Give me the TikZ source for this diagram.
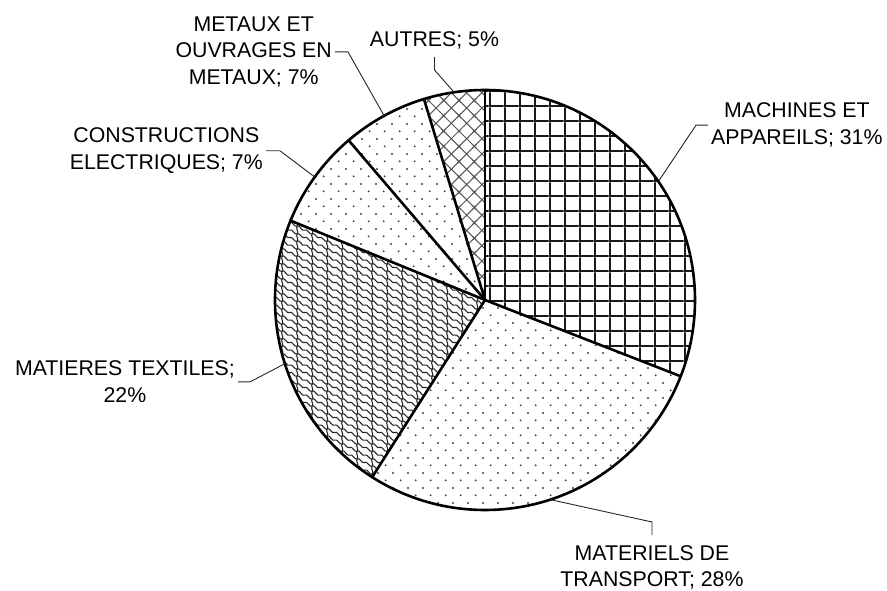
\documentclass[tikz,border=0pt]{standalone}
\usepackage{fontspec}
\setmainfont{Liberation Sans}
\usetikzlibrary{patterns,calc}

% large grid
\pgfdeclarepatternformonly{xlgrid}{\pgfpointorigin}{\pgfpoint{15.3pt}{15.3pt}}{\pgfpoint{15.3pt}{15.3pt}}{%
  \pgfpathrectangle{\pgfpointorigin}{\pgfpoint{15.3pt}{1.9pt}}%
  \pgfpathrectangle{\pgfpointorigin}{\pgfpoint{1.9pt}{15.3pt}}%
  \pgfusepath{fill}}
% sparse dots
\pgfdeclarepatternformonly{xdots}{\pgfpointorigin}{\pgfpoint{15.3pt}{15.3pt}}{\pgfpoint{15.3pt}{15.3pt}}{%
  \pgfpathcircle{\pgfpoint{3.825pt}{3.825pt}}{1.1pt}%
  \pgfpathcircle{\pgfpoint{11.475pt}{11.475pt}}{1.1pt}%
  \pgfusepath{fill}}
% diagonal cross
\pgfdeclarepatternformonly{xcross}{\pgfpoint{-2pt}{-2pt}}{\pgfpoint{17.3pt}{17.3pt}}{\pgfpoint{15.3pt}{15.3pt}}{%
  \pgfsetlinewidth{1.0pt}%
  \pgfpathmoveto{\pgfpoint{-2pt}{-2pt}}\pgfpathlineto{\pgfpoint{17.3pt}{17.3pt}}%
  \pgfpathmoveto{\pgfpoint{-2pt}{17.3pt}}\pgfpathlineto{\pgfpoint{17.3pt}{-2pt}}%
  \pgfusepath{stroke}}
% wave / shingle
\newcommand\wvline[1]{%
  \pgfpathmoveto{\pgfpoint{-1pt}{13.39pt+#1}}%
  \pgfpathlineto{\pgfpoint{2.87pt}{13.39pt+#1}}%
  \pgfpathcurveto{\pgfpoint{4.78pt}{13.39pt+#1}}{\pgfpoint{4.78pt}{9.56pt+#1}}{\pgfpoint{6.69pt}{9.56pt+#1}}%
  \pgfpathlineto{\pgfpoint{10.52pt}{9.56pt+#1}}%
  \pgfpathcurveto{\pgfpoint{12.43pt}{9.56pt+#1}}{\pgfpoint{12.43pt}{5.74pt+#1}}{\pgfpoint{14.34pt}{5.74pt+#1}}%
  \pgfpathlineto{\pgfpoint{16.3pt}{5.74pt+#1}}%
  \pgfpathmoveto{\pgfpoint{8.6pt}{9.56pt+#1}}%
  \pgfpathcurveto{\pgfpoint{6.6pt}{7.2pt+#1}}{\pgfpoint{10.6pt}{4.2pt+#1}}{\pgfpoint{8.6pt}{1.91pt+#1}}}
\pgfdeclarepatternformonly{xwave}{\pgfpointorigin}{\pgfpoint{15.3pt}{15.3pt}}{\pgfpoint{15.3pt}{15.3pt}}{%
  \pgfsetlinewidth{1.1pt}%
  \wvline{-15.3pt}\wvline{-7.65pt}\wvline{0pt}\wvline{7.65pt}%
  \pgfusepath{stroke}}

\tikzset{
  lbl/.style={font=\fontsize{21.3}{26.7}\selectfont, align=center, inner sep=3pt},
  leader/.style={line width=0.9pt, black!85},
  pieedge/.style={line width=2.6pt, line join=round, line cap=round},
}

\begin{document}
\begin{tikzpicture}[x=1pt,y=1pt]
\useasboundingbox (0,0) rectangle (887,590);
\fill[white] (0,0) rectangle (887,590);

\coordinate (O) at (485,290);

% slices
\fill[pattern=xlgrid, pattern color=black!90] (O) -- ++(90:210pt) arc[start angle=90, end angle=-21.3, radius=210pt] -- cycle;
\fill[pattern=xdots, pattern color=black!75] (O) -- ++(-21.3:210pt) arc[start angle=-21.3, end angle=-122.5, radius=210pt] -- cycle;
\fill[pattern=xwave, pattern color=black!85] (O) -- ++(-122.5:210pt) arc[start angle=-122.5, end angle=-202.2, radius=210pt] -- cycle;
\fill[pattern=xdots, pattern color=black!75] (O) -- ++(157.8:210pt) arc[start angle=157.8, end angle=130.5, radius=210pt] -- cycle;
\fill[pattern=xdots, pattern color=black!75] (O) -- ++(130.5:210pt) arc[start angle=130.5, end angle=106.9, radius=210pt] -- cycle;
\fill[pattern=xcross, pattern color=black!65] (O) -- ++(106.9:210pt) arc[start angle=106.9, end angle=90, radius=210pt] -- cycle;

% outlines
\foreach \a in {90,-21.3,-122.5,157.8,130.5,106.9}
  \draw[pieedge] (O) -- ++(\a:210pt);
\draw[pieedge] (O) circle[radius=210pt];

% leader anchor points on the pie
\coordinate (pmac) at ($(O)+(34.35:210pt)$);
\coordinate (pmat) at ($(O)+(-71.9:210pt)$);
\coordinate (ptex) at ($(O)+(-162.35:210pt)$);
\coordinate (pcon) at ($(O)+(144.15:210pt)$);
\coordinate (pmet) at ($(O)+(118.7:210pt)$);
\coordinate (paut) at ($(O)+(98.45:210pt)$);

% labels
\node[lbl, anchor=west] (lmac) at (708,464.8) {MACHINES ET\\APPAREILS; 31\%};
\node[lbl, anchor=north, inner ysep=10pt] (lmat) at (652,55) {MATERIELS DE\\TRANSPORT; 28\%};
\node[lbl, anchor=east] (ltex) at (238,208.1) {MATIERES TEXTILES;\\22\%};
\node[lbl, anchor=east] (lcon) at (266,439.2) {CONSTRUCTIONS\\ELECTRIQUES; 7\%};
\node[lbl, anchor=east] (lmet) at (335,538.1) {METAUX ET\\OUVRAGES EN\\METAUX; 7\%};
\node[lbl, anchor=south, inner ysep=8pt] (laut) at (434.5,533) {AUTRES; 5\%};

% leaders
\draw[leader] (pmac) -- ($(lmac.west)+(-12,0)$) -- (lmac.west);
\draw[leader] (pmat) -- ($(lmat.north)+(0,13)$) -- (lmat.north);
\draw[leader] (ptex) -- ($(ltex.east)+(12,0)$) -- (ltex.east);
\draw[leader] (pcon) -- ($(lcon.east)+(14,0)$) -- (lcon.east);
\draw[leader] (pmet) -- ($(lmet.east)+(13,0)$) -- (lmet.east);
\draw[leader] (paut) -- ($(laut.south)+(0,-13)$) -- (laut.south);
\end{tikzpicture}
\end{document}
